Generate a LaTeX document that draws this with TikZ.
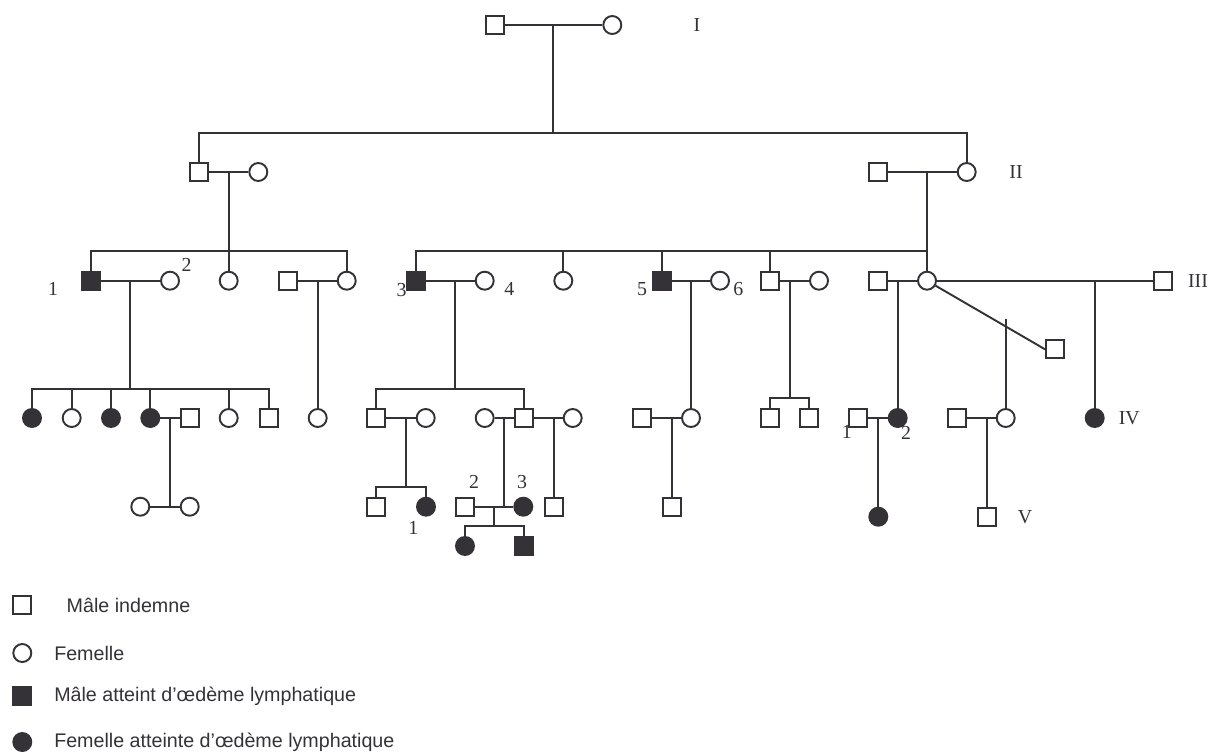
\documentclass[tikz,border=0pt]{standalone}
\usepackage{fontspec}
\setmainfont{Liberation Serif}
\setsansfont{Liberation Sans}
\usepackage{xcolor}
\definecolor{ink}{RGB}{52, 50, 54}

\begin{document}
\begin{tikzpicture}[x=0.02cm, y=-0.02cm, line width=1.1pt, color=ink,
    male/.style={draw, rectangle, minimum size=0.36cm, inner sep=0pt},
    female/.style={draw, circle, minimum size=0.36cm, inner sep=0pt},
    amale/.style={male, fill=ink},
    afemale/.style={female, fill=ink},
    lbl/.style={font=\fontsize{11.3pt}{13pt}\selectfont, inner sep=0pt},
    key/.style={font=\sffamily\fontsize{11.2pt}{14pt}\selectfont, anchor=west, inner sep=0pt}]
  \useasboundingbox (0,0) rectangle (1216,751);

  % generation I
  \node[male]   (I1) at (494.7,25) {};
  \node[female] (I2) at (612.3,25) {};
  \coordinate (jI) at (553.3,25);
  \coordinate (sI) at (553.3,133);
  \node[lbl] (gI) at (697,25) {I};
  \draw (I1) -- (I2);
  \draw (jI) -- (sI);

  % generation II
  \node[male]   (II1) at (199,172) {};
  \node[female] (II2) at (258.3,172) {};
  \node[male]   (II3) at (877.7,172) {};
  \node[female] (II4) at (966.7,172) {};
  \coordinate (jIIa) at (228.7,172);
  \coordinate (jIIb) at (927,172);
  \node[lbl] (gII) at (1016,172) {II};
  \draw (II1.north) |- (sI) -| (II4.north);
  \draw (II1) -- (II2);
  \draw (II3) -- (II4);

  % generation III
  \coordinate (sIIa) at (228.7,250.7);
  \coordinate (sIIb) at (927,250.7);
  \node[amale]  (III1)  at (91,280.7) {};
  \node[female] (III2)  at (170,280.7) {};
  \node[female] (III3)  at (228.7,280.7) {};
  \node[male]   (III4)  at (288,280.7) {};
  \node[female] (III5)  at (346.7,280.7) {};
  \node[amale]  (III6)  at (415.7,280.7) {};
  \node[female] (III7)  at (484.7,280.7) {};
  \node[female] (III8)  at (563.3,280.7) {};
  \node[amale]  (III9)  at (661.7,280.7) {};
  \node[female] (III10) at (720,280.7) {};
  \node[male]   (III11) at (770,280.7) {};
  \node[female] (III12) at (819,280.7) {};
  \node[male]   (III13) at (877.7,280.7) {};
  \node[female] (III14) at (927,280.7) {};
  \node[male]   (III15) at (1163.3,280.7) {};
  \node[male]   (III16) at (1055,349.3) {};
  \coordinate (jIIIa) at (130.3,280.7);
  \coordinate (jIIIb) at (317.7,280.7);
  \coordinate (jIIIc) at (455.3,280.7);
  \coordinate (jIIId) at (691,280.7);
  \coordinate (jIIIe) at (790,280.7);
  \coordinate (jIIIf) at (897.7,280.7);
  \coordinate (jIIIg) at (1094.7,280.7);
  \coordinate (jIIIh) at (1005.7,319.3);
  \node[lbl] (n1) at (53,289) {1};
  \node[lbl] (n2) at (186.7,265) {2};
  \node[lbl] (n3) at (401.7,290) {3};
  \node[lbl] (n4) at (509.3,289) {4};
  \node[lbl] (n5) at (642,289) {5};
  \node[lbl] (n6) at (738.3,289) {6};
  \node[lbl] (gIII) at (1198,280.7) {III};
  \draw (jIIa) -- (sIIa);
  \draw (III1.north) |- (sIIa) -| (III5.north);
  \draw (III3) -- (sIIa);
  \draw (jIIb) -- (III14);
  \draw (III6.north) |- (sIIb);
  \draw (III8) -- (III8 |- sIIb);
  \draw (III9) -- (III9 |- sIIb);
  \draw (III11) -- (III11 |- sIIb);
  \draw (III1) -- (III2);
  \draw (III4) -- (III5);
  \draw (III6) -- (III7);
  \draw (III9) -- (III10);
  \draw (III11) -- (III12);
  \draw (III13) -- (III14);
  \draw (III14) -- (III15);
  \draw (III14) -- (III16.west);

  % generation IV
  \coordinate (sIIIa) at (130.3,389);
  \coordinate (sIIIc) at (455.3,389);
  \coordinate (sIIIe) at (790,398.3);
  \node[afemale] (IV1)  at (32,418) {};
  \node[female]  (IV2)  at (71.7,418) {};
  \node[afemale] (IV3)  at (111,418) {};
  \node[afemale] (IV4)  at (150.3,418) {};
  \node[male]    (IV5)  at (189.7,418) {};
  \node[female]  (IV6)  at (228.7,418) {};
  \node[male]    (IV7)  at (268.7,418) {};
  \node[female]  (IV8)  at (317.7,418) {};
  \node[male]    (IV9)  at (376.3,418) {};
  \node[female]  (IV10) at (425.7,418) {};
  \node[female]  (IV11) at (484.7,418) {};
  \node[male]    (IV12) at (524,418) {};
  \node[female]  (IV13) at (572.7,418) {};
  \node[male]    (IV14) at (642.3,418) {};
  \node[female]  (IV15) at (691,418) {};
  \node[male]    (IV16) at (770,418) {};
  \node[male]    (IV17) at (809.3,418) {};
  \node[male]    (IV18) at (858.3,418) {};
  \node[afemale] (IV19) at (897.7,418) {};
  \node[male]    (IV20) at (956.7,418) {};
  \node[female]  (IV21) at (1005.7,418) {};
  \node[afemale] (IV22) at (1094.7,418) {};
  \coordinate (jIVa) at (170.3,418);
  \coordinate (jIVb) at (405.7,418);
  \coordinate (jIVc) at (504,418);
  \coordinate (jIVd) at (554,418);
  \coordinate (jIVe) at (671.7,418);
  \coordinate (jIVf) at (878.3,418);
  \coordinate (jIVg) at (986.7,418);
  \node[lbl] (m1) at (846.7,431.7) {1};
  \node[lbl] (m2) at (906,433.3) {2};
  \node[lbl] (gIV) at (1129.3,418) {IV};
  \draw (jIIIa) -- (sIIIa);
  \draw (IV1.north) |- (sIIIa) -| (IV7.north);
  \draw (IV2) -- (IV2 |- sIIIa);
  \draw (IV3) -- (IV3 |- sIIIa);
  \draw (IV4) -- (IV4 |- sIIIa);
  \draw (IV6) -- (IV6 |- sIIIa);
  \draw (jIIIb) -- (IV8);
  \draw (jIIIc) -- (sIIIc);
  \draw (IV9.north) |- (sIIIc) -| (IV12.north);
  \draw (jIIId) -- (IV15);
  \draw (jIIIe) -- (sIIIe);
  \draw (IV16.north) |- (sIIIe) -| (IV17.north);
  \draw (jIIIf) -- (IV19);
  \draw (jIIIh) -- (IV21);
  \draw (jIIIg) -- (IV22);
  \draw (IV4) -- (IV5);
  \draw (IV9) -- (IV10);
  \draw (IV11) -- (IV12);
  \draw (IV12) -- (IV13);
  \draw (IV14) -- (IV15);
  \draw (IV18) -- (IV19);
  \draw (IV20) -- (IV21);

  % generation V
  \coordinate (sIVb) at (405.7,486.7);
  \node[female]  (V1)  at (140.3,506.7) {};
  \node[female]  (V2)  at (189.7,506.7) {};
  \node[male]    (V3)  at (376.3,506.7) {};
  \node[afemale] (V4)  at (426,506.7) {};
  \node[male]    (V5)  at (464.7,506.7) {};
  \node[afemale] (V6)  at (523.3,506.7) {};
  \node[male]    (V7)  at (554,506.7) {};
  \node[male]    (V8)  at (671.7,506.7) {};
  \node[afemale] (V9)  at (878.3,516.7) {};
  \node[male]    (V10) at (986.7,516.7) {};
  \coordinate (jVa) at (170.3,506.7);
  \coordinate (jVc) at (504,506.7);
  \coordinate (jVd) at (494.3,506.7);
  \coordinate (sVd) at (494.3,525.7);
  \node[lbl] (k1) at (413.3,528.3) {1};
  \node[lbl] (k2) at (474,481.7) {2};
  \node[lbl] (k3) at (522,481.7) {3};
  \node[lbl] (gV) at (1025,516.7) {V};
  \draw (V1) -- (V2);
  \draw (jIVa) -- (jVa);
  \draw (jIVb) -- (sIVb);
  \draw (V3.north) |- (sIVb) -| (V4.north);
  \draw (V5) -- (V6);
  \draw (jIVc) -- (jVc);
  \draw (jIVd) -- (V7);
  \draw (jIVe) -- (V8);
  \draw (jIVf) -- (V9);
  \draw (jIVg) -- (V10);

  % generation VI
  \node[afemale] (VI1) at (465,546) {};
  \node[amale]   (VI2) at (524,546) {};
  \draw (jVd) -- (sVd);
  \draw (VI1.north) |- (sVd) -| (VI2.north);

  % legend
  \node[male]    (L1) at (22.3,605) {};
  \node[female]  (L2) at (22.3,653) {};
  \node[amale]   (L3) at (22.3,696) {};
  \node[afemale] (L4) at (22.3,742) {};
  \node[key] (t1) at (65.7,605) {Mâle indemne};
  \node[key] (t2) at (53.3,653) {Femelle};
  \node[key] (t3) at (53.3,696) {Mâle atteint d’œdème lymphatique};
  \node[key] (t4) at (53.3,742) {Femelle atteinte d’œdème lymphatique};
\end{tikzpicture}
\end{document}
